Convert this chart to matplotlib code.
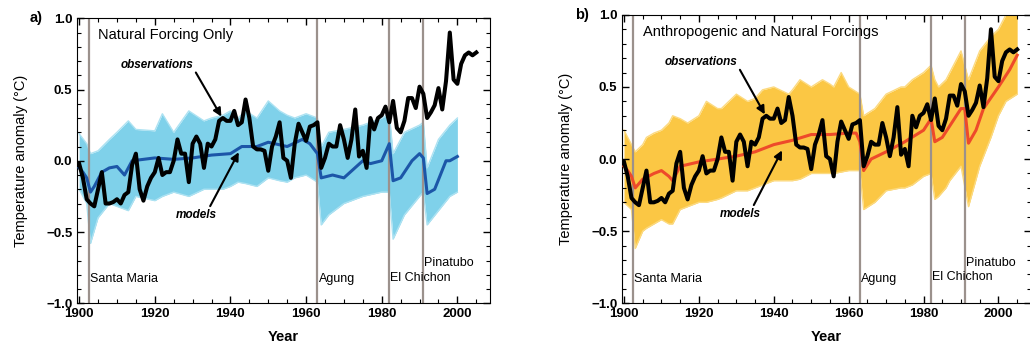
import numpy as np
import matplotlib
matplotlib.use("Agg")
import matplotlib.pyplot as plt
from matplotlib.ticker import MultipleLocator

plt.rcParams['font.family'] = ['Liberation Sans', 'DejaVu Sans']

# observed annual anomalies, 1900-2005
obs_years = list(range(1900, 2006))
obs = [-0.02, -0.12, -0.27, -0.30, -0.32, -0.20, -0.08, -0.30, -0.30, -0.29,
       -0.27, -0.30, -0.24, -0.22, -0.03, 0.05, -0.20, -0.28, -0.18, -0.12,
       -0.08, 0.02, -0.10, -0.08, -0.08, 0.00, 0.15, 0.05, 0.05, -0.15,
       0.12, 0.17, 0.12, -0.05, 0.12, 0.10, 0.15, 0.28, 0.30, 0.28,
       0.28, 0.35, 0.25, 0.27, 0.43, 0.30, 0.10, 0.08, 0.08, 0.07,
       -0.07, 0.10, 0.17, 0.27, 0.02, 0.00, -0.12, 0.12, 0.26, 0.20,
       0.14, 0.24, 0.25, 0.27, -0.05, 0.02, 0.12, 0.10, 0.10, 0.25,
       0.15, 0.02, 0.15, 0.36, 0.03, 0.07, -0.05, 0.30, 0.22, 0.30,
       0.32, 0.38, 0.27, 0.42, 0.23, 0.20, 0.28, 0.44, 0.44, 0.37,
       0.52, 0.47, 0.30, 0.34, 0.39, 0.51, 0.36, 0.56, 0.90, 0.57,
       0.54, 0.68, 0.74, 0.76, 0.74, 0.76]

# natural forcing only: ensemble mean and spread
nat_years = [1900, 1901, 1902, 1903, 1904, 1906, 1908, 1910, 1912, 1914, 1917, 1920,
             1925, 1930, 1935, 1940, 1943, 1947, 1950, 1955, 1959, 1961, 1963,
             1964, 1967, 1970, 1975, 1977, 1980, 1982, 1983, 1985, 1988, 1990,
             1991, 1992, 1994, 1997, 1998, 2000]
nat_mean = [-0.05, -0.08, -0.12, -0.22, -0.18, -0.08, -0.05, -0.04, -0.10, 0.00, 0.01, 0.02,
            0.01, 0.02, 0.04, 0.05, 0.10, 0.10, 0.13, 0.10, 0.15, 0.12, 0.05,
            -0.12, -0.10, -0.12, 0.00, -0.02, 0.00, 0.12, -0.14, -0.12, 0.00, 0.05,
            0.02, -0.23, -0.20, 0.00, 0.00, 0.03]
nat_env_years = [1900, 1902, 1903, 1905, 1908, 1910, 1913, 1915, 1920, 1922, 1925, 1929,
                 1933, 1935, 1938, 1940, 1942, 1944, 1947, 1950, 1953, 1955, 1957, 1960,
                 1963, 1964, 1966, 1970, 1975, 1980, 1982, 1983, 1986, 1990, 1991,
                 1992, 1995, 1998, 2000]
nat_hi = [0.19, 0.12, 0.05, 0.07, 0.15, 0.20, 0.28, 0.22, 0.21, 0.33, 0.20, 0.35,
          0.28, 0.30, 0.32, 0.35, 0.30, 0.35, 0.30, 0.42, 0.35, 0.32, 0.30, 0.33,
          0.30, 0.10, 0.20, 0.22, 0.25, 0.30, 0.33, 0.05, 0.20, 0.25, 0.27,
          -0.05, 0.15, 0.25, 0.30]
nat_lo = [-0.20, -0.30, -0.58, -0.40, -0.30, -0.32, -0.35, -0.25, -0.28, -0.25, -0.22, -0.25,
          -0.20, -0.20, -0.20, -0.18, -0.15, -0.16, -0.18, -0.12, -0.14, -0.15, -0.12, -0.10,
          -0.15, -0.45, -0.38, -0.30, -0.25, -0.22, -0.22, -0.55, -0.38, -0.25, -0.22,
          -0.45, -0.35, -0.25, -0.22]

# anthropogenic and natural forcings: ensemble mean and spread
all_years = [1900, 1901, 1902, 1903, 1905, 1908, 1910, 1912, 1913, 1915, 1920, 1925,
             1930, 1935, 1940, 1945, 1950, 1955, 1960, 1962, 1963, 1964, 1966,
             1970, 1975, 1980, 1982, 1983, 1985, 1990, 1991, 1992, 1994, 1996,
             2000, 2003, 2005]
all_mean = [-0.05, -0.08, -0.12, -0.20, -0.14, -0.10, -0.08, -0.12, -0.15, -0.05, -0.02, 0.00,
            0.02, 0.05, 0.10, 0.13, 0.17, 0.17, 0.18, 0.18, 0.12, -0.08, 0.00,
            0.05, 0.12, 0.20, 0.28, 0.12, 0.15, 0.35, 0.35, 0.11, 0.20, 0.35,
            0.50, 0.62, 0.72]
all_env_years = [1900, 1902, 1903, 1905, 1906, 1908, 1910, 1912, 1913, 1915, 1917, 1920,
                 1922, 1925, 1926, 1930, 1933, 1935, 1937, 1940, 1944, 1945, 1947, 1950,
                 1953, 1955, 1956, 1958, 1960, 1963, 1964, 1967, 1970, 1974, 1975, 1977,
                 1980, 1982, 1983, 1984, 1986, 1987, 1990, 1992, 1995, 1998, 2000, 2002,
                 2005]
all_hi = [0.20, 0.10, 0.05, 0.10, 0.15, 0.18, 0.20, 0.25, 0.30, 0.28, 0.25, 0.30,
          0.40, 0.35, 0.35, 0.45, 0.40, 0.42, 0.48, 0.50, 0.45, 0.48, 0.55, 0.50,
          0.55, 0.52, 0.50, 0.60, 0.50, 0.45, 0.30, 0.35, 0.45, 0.50, 0.50, 0.55,
          0.60, 0.65, 0.55, 0.50, 0.55, 0.60, 0.75, 0.55, 0.75, 0.85, 0.90, 1.00,
          1.00]
all_lo = [-0.30, -0.35, -0.62, -0.50, -0.48, -0.45, -0.42, -0.45, -0.45, -0.35, -0.33, -0.30,
          -0.30, -0.28, -0.27, -0.22, -0.22, -0.20, -0.18, -0.15, -0.15, -0.15, -0.14, -0.10,
          -0.10, -0.10, -0.10, -0.09, -0.08, -0.08, -0.35, -0.30, -0.22, -0.20, -0.20, -0.18,
          -0.12, -0.10, -0.28, -0.26, -0.20, -0.15, -0.05, -0.33, -0.05, 0.15, 0.30, 0.40,
          0.45]

volcanoes = ['Santa Maria', 'Agung', 'El Chichon', 'Pinatubo']
volcano_years = [1902.5, 1963, 1982, 1991]
volcano_label_y = [-0.83, -0.83, -0.82, -0.72]


def draw_panel(ax, letter, title, env_years, lo, hi, mean_years, mean,
               fill_col, edge_col, mean_col):
    ax.fill_between(env_years, lo, hi, color=fill_col, lw=0, zorder=1)
    ax.plot(env_years, hi, color=edge_col, lw=1.0, zorder=1.5)
    ax.plot(env_years, lo, color=edge_col, lw=1.0, zorder=1.5)
    for vy in volcano_years:
        ax.axvline(vy, color='#9b918c', lw=1.6, zorder=2)
    ax.plot(mean_years, mean, color=mean_col, lw=2.2, zorder=3)
    ax.plot(obs_years, obs, color='black', lw=2.9, zorder=4)

    for name, vy, ly in zip(volcanoes, volcano_years, volcano_label_y):
        ax.text(vy + 0.3, ly, name, fontsize=9, va='center', ha='left', zorder=5)

    ax.text(1905, 0.88, title, fontsize=10.5, va='center', ha='left')
    ax.annotate('observations', xy=(1937.6, 0.31), xytext=(1920.5, 0.67),
                fontsize=8.5, style='italic', weight='bold', ha='center', va='center',
                arrowprops=dict(arrowstyle='-|>', color='black', lw=1.5,
                                shrinkA=0, shrinkB=0, mutation_scale=12,
                                relpos=(1.0, 0.3)))
    ax.annotate('models', xy=(1942.2, 0.06), xytext=(1931, -0.38),
                fontsize=8.5, style='italic', weight='bold', ha='center', va='center',
                arrowprops=dict(arrowstyle='-|>', color='black', lw=1.5,
                                shrinkA=0, shrinkB=0, mutation_scale=12,
                                relpos=(0.8, 1.0)))

    ax.set_xlim(1899.5, 2008.7)
    ax.set_ylim(-1.0, 1.0)
    ax.xaxis.set_major_locator(MultipleLocator(20))
    ax.xaxis.set_minor_locator(MultipleLocator(5))
    ax.yaxis.set_major_locator(MultipleLocator(0.5))
    ax.yaxis.set_minor_locator(MultipleLocator(0.1))
    ax.tick_params(which='both', direction='in', top=True, right=True, labelsize=9.5)
    ax.tick_params(which='major', length=5, width=1)
    ax.tick_params(which='minor', length=3, width=0.8)
    for lab in ax.get_xticklabels() + ax.get_yticklabels():
        lab.set_fontweight('bold')
    ax.set_xlabel('Year', fontsize=10.5, weight='bold', labelpad=7)
    ax.set_ylabel('Temperature anomaly (\u00b0C)', fontsize=10.5, labelpad=13)
    ax.text(-0.115, 1.0, letter, transform=ax.transAxes, fontsize=10.5,
            weight='bold', va='center', ha='left')


fig = plt.figure(figsize=(10.3, 3.45), dpi=100)
ax1 = fig.add_axes([0.075, 0.121, 0.401, 0.826])
ax2 = fig.add_axes([0.604, 0.121, 0.397, 0.836])

draw_panel(ax1, 'a)', 'Natural Forcing Only', nat_env_years, nat_lo, nat_hi,
           nat_years, nat_mean, '#7fd1ea', '#ade2f2', '#1c56a8')
draw_panel(ax2, 'b)', 'Anthropogenic and Natural Forcings', all_env_years, all_lo, all_hi,
           all_years, all_mean, '#fbc744', '#fcda80', '#ee4a2a')

fig.savefig('out.png', dpi=100)
